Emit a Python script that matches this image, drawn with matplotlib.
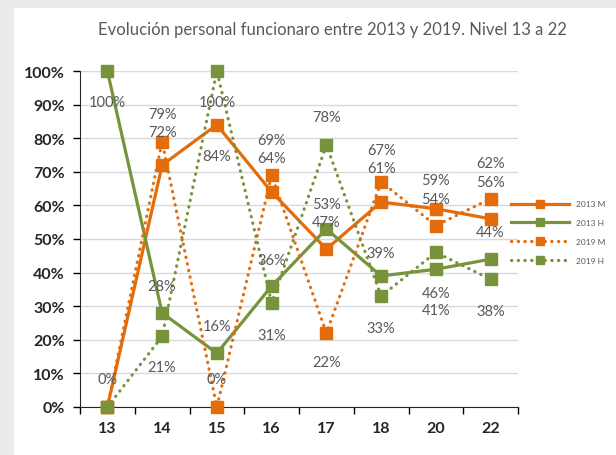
import matplotlib
matplotlib.use('Agg')
import matplotlib.pyplot as plt
from matplotlib.patches import Rectangle
from matplotlib.ticker import FixedLocator, PercentFormatter

plt.rcParams['font.family'] = ['Lato', 'DejaVu Sans']

niveles = ['13', '14', '15', '16', '17', '18', '20', '22']
series_names = ['2013 M', '2013 H', '2019 M', '2019 H']
m_2013 = [0, 72, 84, 64, 47, 61, 59, 56]
h_2013 = [100, 28, 16, 36, 53, 39, 41, 44]
m_2019 = [0, 79, 0, 69, 22, 67, 54, 62]
h_2019 = [0, 21, 100, 31, 78, 33, 46, 38]

# label vertical offsets in pixels (negative = above the point)
offsets = {
    '2013 M': [-28, -33, 31, -34, -27, -34, -29, -37],
    '2013 H': [31, -27, -27, -26, -25, -23, 41, -27],
    '2019 M': [None, -28, -28, -35, 29, -32, -27, -36],
    '2019 H': [None, 31, 31, 32, -28, 32, 41, 32],
}

ORANGE = '#E46C0A'
GREEN = '#77933C'
GRAY_TXT = '#595959'
DOTS = (0, (0.1, 2.0))

fig = plt.figure(figsize=(6.16, 4.56), dpi=100, facecolor='#ebebeb')
fig.patches.append(Rectangle((14 / 616, 0), 1, 1 - 9 / 456, transform=fig.transFigure,
                             facecolor='white', edgecolor='none', zorder=-5))

ax = fig.add_axes([80 / 616, 1 - 408 / 456, (518 - 80) / 616, (408 - 72) / 456])
ax.set_facecolor('none')
ax.set_zorder(2)

x = list(range(len(niveles)))
styles = [
    ('2013 M', m_2013, ORANGE, '-'),
    ('2013 H', h_2013, GREEN, '-'),
    ('2019 M', m_2019, ORANGE, DOTS),
    ('2019 H', h_2019, GREEN, DOTS),
]

for name, vals, color, ls in styles:
    ax.plot(x, vals, color=color, linestyle=ls, linewidth=2.3, marker='s',
            markersize=8, markeredgecolor=color, markerfacecolor=color,
            dash_capstyle='round', solid_joinstyle='round', label=name,
            clip_on=False, zorder=3)
    for xi, v, off in zip(x, vals, offsets[name]):
        if off is None:
            continue
        ax.annotate(f'{v}%', (xi, v), xytext=(0, -off * 0.72), textcoords='offset points',
                    ha='center', va='center', fontsize=10.5, color=GRAY_TXT, zorder=4)

ax.set_xlim(-0.5, len(niveles) - 0.5)
ax.set_ylim(0, 100)
ax.set_yticks(range(0, 101, 10))
ax.yaxis.set_major_formatter(PercentFormatter(decimals=0))
ax.set_xticks(x)
ax.set_xticklabels(niveles)
ax.xaxis.set_minor_locator(FixedLocator([i + 0.5 for i in range(-1, len(niveles))]))
ax.tick_params(axis='x', which='major', length=0, pad=10, labelsize=11.5)
ax.tick_params(axis='x', which='minor', length=5, width=1, direction='out')
ax.tick_params(axis='y', length=5, width=1, direction='out', labelsize=11.5, pad=6)
for lbl in ax.get_xticklabels() + ax.get_yticklabels():
    lbl.set_fontweight('bold')
    lbl.set_color('#262626')

ax.grid(axis='y', color='#d9d9d9', linewidth=1)
ax.set_axisbelow(True)
for side in ['top', 'right']:
    ax.spines[side].set_visible(False)
ax.spines['left'].set_color('#262626')
ax.spines['bottom'].set_color('#262626')

fig.text(332 / 616, 1 - 30 / 456, 'Evolución personal funcionaro entre 2013 y 2019. Nivel 13 a 22',
         ha='center', va='center', fontsize=12, color=GRAY_TXT)

fig.legend(loc='center left', bbox_to_anchor=(511 / 616, 1 - 233 / 456), frameon=False,
           fontsize=6, handlelength=7, labelspacing=1.4, borderpad=0, borderaxespad=0,
           handletextpad=0.8, labelcolor=GRAY_TXT, markerscale=0.75)

fig.savefig('out.png', dpi=100, facecolor=fig.get_facecolor())
